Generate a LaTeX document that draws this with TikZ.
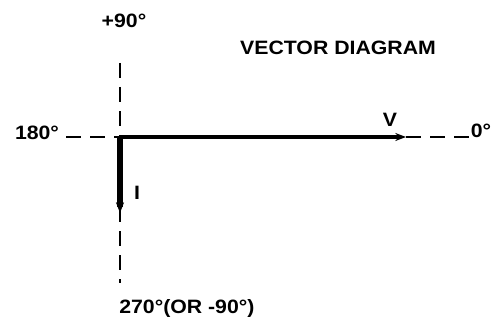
\documentclass[tikz,border=0pt]{standalone}
\usepackage{fontspec}
\setmainfont{Liberation Sans}
\usetikzlibrary{arrows.meta}

\begin{document}
\begin{tikzpicture}[x=0.75pt,y=-0.75pt,
    lbl/.style={font=\bfseries\fontsize{14.5}{17}\selectfont, inner sep=0pt, xscale=1.1},
    axis/.style={line width=1.3pt, dash pattern=on 11pt off 7pt},
    vec/.style={line width=2.4pt, -{Stealth[length=8pt,width=6pt]}}]
    \useasboundingbox (0,0) rectangle (496,328);
    \coordinate (o) at (120,137);
    \coordinate (up) at (120,63);
    \coordinate (down) at (120,283);
    \coordinate (left) at (66,137);
    \coordinate (right) at (470,137);
    \coordinate (vtip) at (406,137);
    \coordinate (itip) at (120,213);
    \node[lbl] (n90) at (124,21) {+90\textdegree};
    \node[lbl] (title) at (338,48) {VECTOR DIAGRAM};
    \node[lbl] (n180) at (37,133) {180\textdegree};
    \node[lbl] (n0) at (481,131) {0\textdegree};
    \node[lbl] (nv) at (390,120) {V};
    \node[lbl] (ni) at (137,193) {I};
    \node[lbl, anchor=west] (n270) at (119,308) {270\textdegree(OR -90\textdegree)};
    \draw [axis] (up) -- (down);
    \draw [axis] (left) -- (o);
    \draw [axis] (vtip) -- (right);
    \draw [vec] (o) -- (vtip);
    \draw [vec, line width=3.8pt] (o) -- (itip);
\end{tikzpicture}
\end{document}
